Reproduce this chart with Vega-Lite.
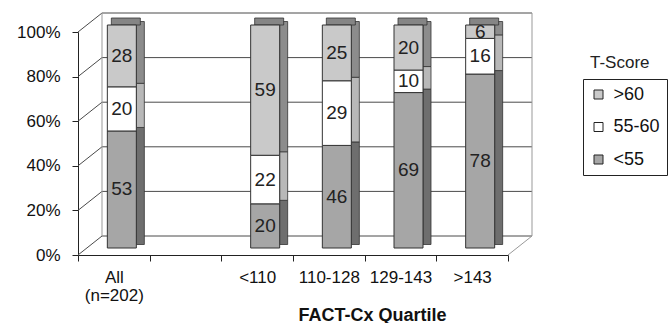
{
  "$schema": "https://vega.github.io/schema/vega-lite/v6.json",
  "autosize": "none",
  "width": 430,
  "height": 223,
  "padding": {"left": 78, "top": 32, "right": 161, "bottom": 68},
  "background": "white",
  "title": {"text": "T-Score", "anchor": "start", "frame": "group", "orient": "top", "offset": -39, "dx": 512, "dy": 33, "baseline": "alphabetic", "fontSize": 17, "fontWeight": "normal", "font": "Liberation Sans", "color": "#222"},
  "config": {"view": {"stroke": null}, "font": "Liberation Sans"},
  "datasets": {
    "bars": [
      {"cat": "All|(n=202)", "seg": "<55", "ord": 1, "val": 53},
      {"cat": "All|(n=202)", "seg": "55-60", "ord": 2, "val": 20},
      {"cat": "All|(n=202)", "seg": ">60", "ord": 3, "val": 28},
      {"cat": "<110", "seg": "<55", "ord": 1, "val": 20},
      {"cat": "<110", "seg": "55-60", "ord": 2, "val": 22},
      {"cat": "<110", "seg": ">60", "ord": 3, "val": 59},
      {"cat": "110-128", "seg": "<55", "ord": 1, "val": 46},
      {"cat": "110-128", "seg": "55-60", "ord": 2, "val": 29},
      {"cat": "110-128", "seg": ">60", "ord": 3, "val": 25},
      {"cat": "129-143", "seg": "<55", "ord": 1, "val": 69},
      {"cat": "129-143", "seg": "55-60", "ord": 2, "val": 10},
      {"cat": "129-143", "seg": ">60", "ord": 3, "val": 20},
      {"cat": ">143", "seg": "<55", "ord": 1, "val": 78},
      {"cat": ">143", "seg": "55-60", "ord": 2, "val": 16},
      {"cat": ">143", "seg": ">60", "ord": 3, "val": 6}
    ],
    "ticks": [{"t": 0}, {"t": 0.2}, {"t": 0.4}, {"t": 0.6}, {"t": 0.8}, {"t": 1}],
    "one": [{"k": 1}]
  },
  "encoding": {
    "x": {
      "field": "cat", "type": "nominal",
      "scale": {"domain": ["All|(n=202)", " ", "<110", "110-128", "129-143", ">143"], "paddingInner": 0, "paddingOuter": 0},
      "sort": null,
      "axis": {
        "labelExpr": "split(datum.label, '|')",
        "labelAngle": 0, "labelFontSize": 17, "labelColor": "#111", "labelFont": "Liberation Sans",
        "labelBaseline": "alphabetic", "labelPadding": 21, "labelLineHeight": 18,
        "tickBand": "extent", "tickSize": 6, "tickColor": "#222", "domainColor": "#222",
        "title": "FACT-Cx Quartile", "titleFontSize": 18, "titleFontWeight": "bold", "titleColor": "#111",
        "titleX": 294, "titleY": 65, "titleBaseline": "alphabetic", "titleAlign": "center"
      }
    }
  },
  "resolve": {"scale": {"fill": "independent"}, "legend": {"fill": "independent"}},
  "layer": [
    {
      "data": {"name": "ticks"},
      "mark": {"type": "rule", "color": "#4a4a4a", "strokeWidth": 1, "xOffset": 24, "x2Offset": 24, "yOffset": -19},
      "encoding": {
        "x": {"datum": "All|(n=202)", "type": "nominal", "bandPosition": 0},
        "x2": {"datum": ">143", "bandPosition": 1},
        "y": {"field": "t", "type": "quantitative", "scale": {"domain": [0, 1]},
          "axis": {"format": ".0%", "values": [0, 0.2, 0.4, 0.6, 0.8, 1], "grid": false, "title": null,
            "labelFontSize": 17, "labelColor": "#111", "labelFont": "Liberation Sans", "labelPadding": 12,
            "tickSize": 6, "tickColor": "#222", "domainColor": "#222"}}
      }
    },
    {
      "data": {"name": "ticks"},
      "mark": {"type": "rule", "color": "#4a4a4a", "strokeWidth": 1, "x2Offset": 24, "y2Offset": -19},
      "encoding": {
        "x": {"datum": "All|(n=202)", "type": "nominal", "bandPosition": 0},
        "x2": {"datum": "All|(n=202)", "bandPosition": 0},
        "y": {"field": "t", "type": "quantitative"},
        "y2": {"field": "t"}
      }
    },
    {
      "data": {"name": "one"},
      "mark": {"type": "rule", "color": "#999", "strokeWidth": 1, "xOffset": 24, "yOffset": -19, "y2Offset": -19},
      "encoding": {
        "x": {"datum": "All|(n=202)", "type": "nominal", "bandPosition": 0},
        "y": {"datum": 0, "type": "quantitative"},
        "y2": {"datum": 1}
      }
    },
    {
      "data": {"name": "one"},
      "mark": {"type": "rule", "color": "#999", "strokeWidth": 1, "xOffset": 24, "yOffset": -19, "y2Offset": -19},
      "encoding": {
        "x": {"datum": ">143", "type": "nominal", "bandPosition": 1},
        "y": {"datum": 0, "type": "quantitative"},
        "y2": {"datum": 1}
      }
    },
    {
      "data": {"name": "one"},
      "mark": {"type": "rule", "color": "#999", "strokeWidth": 1, "x2Offset": 24, "y2Offset": -19},
      "encoding": {
        "x": {"datum": ">143", "type": "nominal", "bandPosition": 1},
        "x2": {"datum": ">143", "bandPosition": 1},
        "y": {"datum": 0, "type": "quantitative"},
        "y2": {"datum": 0}
      }
    },
    {
      "data": {"name": "bars"},
      "transform": [
        {"stack": "val", "groupby": ["cat"], "sort": [{"field": "ord"}], "offset": "normalize", "as": ["y0", "y1"]}
      ],
      "mark": {"type": "bar", "width": 8, "xOffset": 26.5, "yOffset": -10.5, "y2Offset": -10.5, "stroke": "#333", "strokeWidth": 0.8},
      "encoding": {
        "y": {"field": "y0", "type": "quantitative"},
        "y2": {"field": "y1"},
        "fill": {"field": "seg", "type": "nominal", "scale": {"domain": [">60", "55-60", "<55"], "range": ["#8c8c8c", "#b8b8b8", "#6e6e6e"]}, "legend": null}
      }
    },
    {
      "data": {"name": "bars"},
      "transform": [{"filter": "datum.seg == '>60'"}],
      "mark": {"type": "bar", "width": 29, "xOffset": 12, "yOffset": -7, "y2Offset": -14, "fill": "#858585", "stroke": "#333", "strokeWidth": 0.8},
      "encoding": {
        "y": {"datum": 1, "type": "quantitative"},
        "y2": {"datum": 1}
      }
    },
    {
      "data": {"name": "bars"},
      "transform": [
        {"stack": "val", "groupby": ["cat"], "sort": [{"field": "ord"}], "offset": "normalize", "as": ["y0", "y1"]}
      ],
      "mark": {"type": "bar", "width": 29, "xOffset": 8, "yOffset": -7, "y2Offset": -7, "stroke": "#333", "strokeWidth": 1},
      "encoding": {
        "y": {"field": "y0", "type": "quantitative"},
        "y2": {"field": "y1"},
        "fill": {"field": "seg", "type": "nominal", "scale": {"domain": [">60", "55-60", "<55"], "range": ["#c9c9c9", "#ffffff", "#a6a6a6"]},
          "legend": {"title": null, "orient": "none", "legendX": 505, "legendY": 47, "strokeColor": "#222", "padding": 6.5,
            "rowPadding": 14.5, "symbolType": "square", "symbolSize": 81, "symbolStrokeColor": "#222", "symbolStrokeWidth": 1,
            "labelFontSize": 18, "labelFont": "Liberation Sans", "labelColor": "#111", "labelOffset": 6}}
      }
    },
    {
      "data": {"name": "bars"},
      "transform": [
        {"stack": "val", "groupby": ["cat"], "sort": [{"field": "ord"}], "offset": "normalize", "as": ["y0", "y1"]},
        {"calculate": "(datum.y0 + datum.y1) / 2", "as": "mid"}
      ],
      "mark": {"type": "text", "xOffset": 8, "yOffset": -7, "fontSize": 19, "font": "Liberation Sans", "color": "#222", "baseline": "middle"},
      "encoding": {
        "y": {"field": "mid", "type": "quantitative"},
        "text": {"field": "val", "type": "quantitative"}
      }
    }
  ]
}
